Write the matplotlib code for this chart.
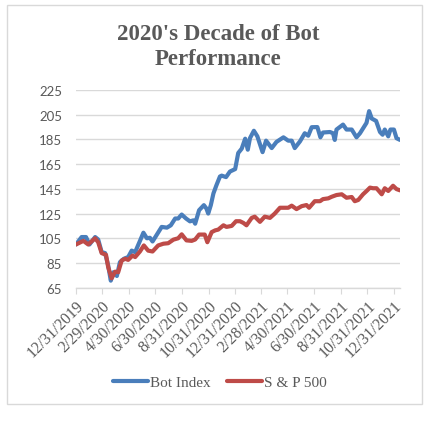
import matplotlib
matplotlib.use("Agg")
import matplotlib.pyplot as plt
from matplotlib.patches import Rectangle
import pandas as pd

# Bot Index (leido do grafico)
bot_datas = [
    "2019-12-31", "2020-01-13", "2020-01-23", "2020-01-31", "2020-02-13", "2020-02-20",
    "2020-02-28", "2020-03-07", "2020-03-14", "2020-03-20", "2020-03-26", "2020-04-03",
    "2020-04-10", "2020-04-19", "2020-04-29", "2020-05-07", "2020-05-15", "2020-05-25",
    "2020-06-03", "2020-06-11", "2020-06-18", "2020-06-24", "2020-07-04", "2020-07-15",
    "2020-07-27", "2020-08-05", "2020-08-15", "2020-08-22", "2020-08-30", "2020-09-09",
    "2020-09-18", "2020-09-26", "2020-09-30", "2020-10-09", "2020-10-20", "2020-10-26",
    "2020-10-30", "2020-11-05", "2020-11-11", "2020-11-18", "2020-11-26", "2020-11-30",
    "2020-12-10", "2020-12-19", "2020-12-31", "2021-01-07", "2021-01-15", "2021-01-23",
    "2021-01-29", "2021-02-03", "2021-02-12", "2021-02-20", "2021-03-04", "2021-03-12",
    "2021-03-25", "2021-04-05", "2021-04-21", "2021-05-02", "2021-05-10", "2021-05-17",
    "2021-05-29", "2021-06-09", "2021-06-17", "2021-06-25", "2021-07-08", "2021-07-15",
    "2021-07-21", "2021-08-06", "2021-08-13", "2021-08-17", "2021-08-21", "2021-09-05",
    "2021-09-13", "2021-09-25", "2021-10-06", "2021-10-14", "2021-10-29", "2021-11-04",
    "2021-11-10", "2021-11-20", "2021-11-29", "2021-12-05", "2021-12-10", "2021-12-18",
    "2021-12-23", "2021-12-31", "2022-01-06", "2022-01-14",
]
bot_valores = [
    100, 106, 106, 100, 106, 104,
    93.8, 93, 83, 70.7, 77.5, 74.5,
    85.7, 88.4, 89.8, 95, 93.8, 102,
    109.5, 105, 105.4, 102.4, 108, 114.2,
    113.6, 115.5, 121, 121, 124.2, 121,
    118.7, 119.5, 116.8, 127.7, 131.8, 129,
    125, 131.8, 141.3, 148, 155, 155.7,
    154.5, 159, 161, 174, 177.5, 185.6,
    176.7, 186, 192, 187.5, 174.7, 184,
    178, 183, 186.7, 184, 184, 178,
    183.4, 190, 188, 194.9, 195, 186.7,
    190.6, 191, 190, 184.6, 193, 197,
    193, 193, 186.7, 190, 198.4, 207.9,
    201.9, 200, 191, 188.8, 193, 187.5,
    193, 193, 186, 184.6,
]

# S & P 500
sp_datas = [
    "2019-12-31", "2020-01-17", "2020-01-28", "2020-02-13", "2020-02-20", "2020-02-28",
    "2020-03-09", "2020-03-14", "2020-03-22", "2020-03-30", "2020-04-06", "2020-04-14",
    "2020-04-22", "2020-04-29", "2020-05-09", "2020-05-15", "2020-05-26", "2020-06-04",
    "2020-06-14", "2020-06-24", "2020-07-07", "2020-07-19", "2020-07-30", "2020-08-11",
    "2020-08-22", "2020-08-30", "2020-09-10", "2020-09-22", "2020-09-30", "2020-10-09",
    "2020-10-22", "2020-10-28", "2020-11-07", "2020-11-15", "2020-11-22", "2020-12-04",
    "2020-12-11", "2020-12-23", "2021-01-02", "2021-01-11", "2021-01-19", "2021-01-26",
    "2021-02-07", "2021-02-14", "2021-02-26", "2021-03-09", "2021-03-21", "2021-04-01",
    "2021-04-13", "2021-04-24", "2021-05-02", "2021-05-10", "2021-05-21", "2021-06-02",
    "2021-06-13", "2021-06-19", "2021-07-02", "2021-07-14", "2021-07-21", "2021-08-02",
    "2021-08-10", "2021-08-21", "2021-09-02", "2021-09-13", "2021-09-25", "2021-10-02",
    "2021-10-10", "2021-10-21", "2021-10-29", "2021-11-06", "2021-11-13", "2021-11-21",
    "2021-12-03", "2021-12-10", "2021-12-18", "2021-12-29", "2022-01-06", "2022-01-14",
]
sp_valores = [
    100, 102.9, 100, 105, 101.8, 93,
    91.6, 81.6, 72.6, 78, 77.5, 87,
    88.4, 87.5, 91, 89.8, 94.3, 99.2,
    95, 94.3, 99.2, 100.6, 101, 103.9,
    105, 108.2, 103.3, 102.9, 104, 108,
    108, 101.8, 110, 111.4, 112, 115.5,
    114.2, 115, 118.8, 118.8, 117.4, 115.5,
    121.5, 122.5, 118.3, 122.5, 121.5, 125,
    129.7, 129.7, 129.7, 131.4, 128.6, 131,
    131.9, 129.7, 135, 135, 136.7, 137.3,
    138.6, 140, 140.6, 137.8, 138.4, 135,
    136, 140.6, 143.2, 146, 145.5, 145.5,
    140.6, 145.5, 143.3, 147.5, 144.8, 143.8,
]

tick_datas = [
    "2019-12-31", "2020-02-29", "2020-04-30", "2020-06-30", "2020-08-31", "2020-10-31",
    "2020-12-31", "2021-02-28", "2021-04-30", "2021-06-30", "2021-08-31", "2021-10-31",
    "2021-12-31",
]
tick_rotulos = [
    "12/31/2019", "2/29/2020", "4/30/2020", "6/30/2020", "8/31/2020", "10/31/2020",
    "12/31/2020", "2/28/2021", "4/30/2021", "6/30/2021", "8/31/2021", "10/31/2021",
    "12/31/2021",
]
y_ticks = [65, 85, 105, 125, 145, 165, 185, 205, 225]

AZUL = "#4a7ebb"
VERMELHO = "#be4b48"
CINZA_TEXTO = "#595959"
SERIFA = ["Liberation Serif", "DejaVu Serif"]

fig = plt.figure(figsize=(4.37, 4.27), dpi=100)

# moldura do grafico (estilo Excel)
fig.patches.append(Rectangle((7 / 437, 1 - 405 / 427), 415 / 437, 399 / 427,
                             transform=fig.transFigure, fill=False,
                             edgecolor="#d9d9d9", linewidth=1))

ax = fig.add_axes([76 / 437, 1 - 288.7 / 427, 324 / 437, 197.7 / 427])

bot_x = pd.to_datetime(bot_datas)
sp_x = pd.to_datetime(sp_datas)
ax.plot(bot_x, bot_valores, color=AZUL, linewidth=3.0, solid_joinstyle="round",
        solid_capstyle="round", label="Bot Index", zorder=3)
ax.plot(sp_x, sp_valores, color=VERMELHO, linewidth=3.0, solid_joinstyle="round",
        solid_capstyle="round", label="S & P 500", zorder=3)

ax.set_ylim(65, 225)
ax.set_yticks(y_ticks)
ax.set_xlim(pd.Timestamp("2019-12-31"), pd.Timestamp("2022-01-14"))
ax.set_xticks(pd.to_datetime(tick_datas))
ax.set_xticklabels(tick_rotulos, rotation=45, ha="right", rotation_mode="anchor",
                   fontfamily=SERIFA, fontsize=11.5, color=CINZA_TEXTO)
for lbl in ax.get_yticklabels():
    lbl.set_fontfamily(["Lato", "DejaVu Sans"])
    lbl.set_fontsize(9.5)
    lbl.set_color(CINZA_TEXTO)

ax.grid(axis="y", color="#d9d9d9", linewidth=1)
ax.set_axisbelow(True)
for lado in ["left", "right", "top"]:
    ax.spines[lado].set_visible(False)
ax.spines["bottom"].set_color("#d9d9d9")
ax.spines["bottom"].set_linewidth(1)
ax.tick_params(axis="x", direction="out", length=4, color="#d9d9d9", pad=3)
ax.tick_params(axis="y", length=0, pad=10)

# titulo em duas linhas
fig.text(218 / 437, 1 - 47 / 427, "2020's Decade of Bot\nPerformance", ha="center",
         va="center", fontfamily=SERIFA, fontsize=16.5, fontweight="bold",
         color=CINZA_TEXTO, linespacing=1.2)

fig.legend(loc="center", bbox_to_anchor=(220 / 437, 1 - 383 / 427), ncol=2,
           frameon=False, prop={"family": SERIFA, "size": 11},
           labelcolor=CINZA_TEXTO, handlelength=2.3, handletextpad=0.1,
           columnspacing=1.1)

plt.savefig("out.png", dpi=100)
plt.close()
